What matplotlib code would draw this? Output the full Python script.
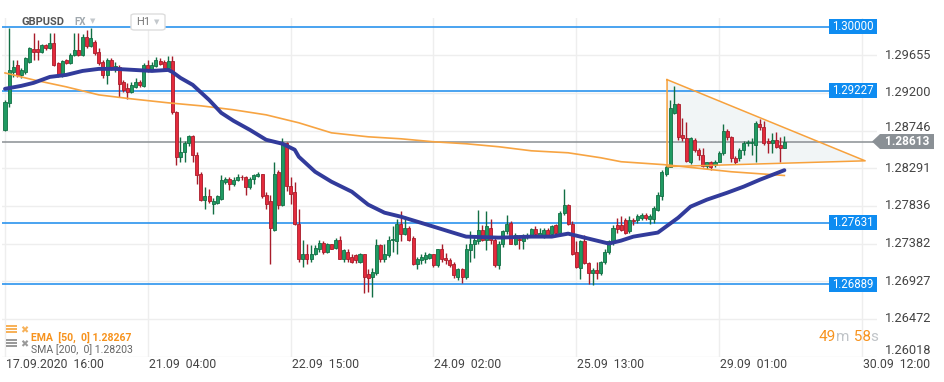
import matplotlib
matplotlib.use('Agg')
import matplotlib.pyplot as plt
from matplotlib.patches import Rectangle, Polygon, FancyBboxPatch
import numpy as np

plt.rcParams['font.family'] = ['Roboto', 'DejaVu Sans']

# ---------------- data (GBPUSD, H1) ----------------
opens = [
    1.2875, 1.2908, 1.2945, 1.2954, 1.2941, 1.2945, 1.2957, 1.2973, 1.2973, 1.2969,
    1.2978, 1.2974, 1.2980, 1.2956, 1.2941, 1.2960, 1.2956, 1.2966, 1.2972, 1.2966,
    1.2987, 1.2977, 1.2981, 1.2969, 1.2957, 1.2942, 1.2960, 1.2950, 1.2951, 1.2933,
    1.2926, 1.2921, 1.2927, 1.2933, 1.2928, 1.2954, 1.2948, 1.2953, 1.2959, 1.2957,
    1.2950, 1.2959, 1.2897, 1.2843, 1.2849, 1.2859, 1.2868, 1.2845, 1.2822, 1.2791,
    1.2795, 1.2786, 1.2787, 1.2792, 1.2813, 1.2816, 1.2810, 1.2815, 1.2819, 1.2818,
    1.2807, 1.2816, 1.2820, 1.2822, 1.2797, 1.2789, 1.2755, 1.2824, 1.2785, 1.2859,
    1.2808, 1.2800, 1.2762, 1.2720, 1.2725, 1.2720, 1.2726, 1.2731, 1.2739, 1.2728,
    1.2737, 1.2733, 1.2742, 1.2719, 1.2728, 1.2722, 1.2724, 1.2716, 1.2725, 1.2701,
    1.2698, 1.2702, 1.2736, 1.2720, 1.2724, 1.2742, 1.2741, 1.2762, 1.2750, 1.2757,
    1.2745, 1.2713, 1.2718, 1.2720, 1.2721, 1.2725, 1.2712, 1.2731, 1.2721, 1.2718,
    1.2714, 1.2698, 1.2707, 1.2698, 1.2730, 1.2737, 1.2741, 1.2754, 1.2743, 1.2757,
    1.2743, 1.2712, 1.2737, 1.2753, 1.2763, 1.2738, 1.2744, 1.2741, 1.2747, 1.2749,
    1.2756, 1.2749, 1.2749, 1.2755, 1.2750, 1.2760, 1.2751, 1.2775, 1.2785, 1.2762,
    1.2728, 1.2709, 1.2741, 1.2715, 1.2703, 1.2706, 1.2702, 1.2716, 1.2728, 1.2741,
    1.2760, 1.2760, 1.2767, 1.2753, 1.2767, 1.2766, 1.2769, 1.2773, 1.2768, 1.2768,
    1.2779, 1.2796, 1.2822, 1.2831, 1.2896, 1.2906, 1.2869, 1.2866, 1.2837, 1.2863,
    1.2851, 1.2845, 1.2832, 1.2836, 1.2833, 1.2837, 1.2848, 1.2874, 1.2867, 1.2842,
    1.2841, 1.2851, 1.2859, 1.2859, 1.2857, 1.2883, 1.2879, 1.2862, 1.2860, 1.2863,
    1.2857, 1.2854]
highs = [
    1.2912, 1.2998, 1.2960, 1.2960, 1.2950, 1.2963, 1.2975, 1.2992, 1.2984, 1.2979,
    1.2979, 1.2992, 1.2992, 1.2957, 1.2960, 1.2961, 1.2968, 1.2992, 1.2992, 1.2991,
    1.2996, 1.2998, 1.2984, 1.2974, 1.2960, 1.2962, 1.2962, 1.2957, 1.2954, 1.2936,
    1.2932, 1.2933, 1.2938, 1.2936, 1.2956, 1.2960, 1.2957, 1.2963, 1.2962, 1.2960,
    1.2965, 1.2965, 1.2898, 1.2867, 1.2862, 1.2869, 1.2869, 1.2849, 1.2825, 1.2806,
    1.2804, 1.2793, 1.2797, 1.2821, 1.2818, 1.2818, 1.2818, 1.2822, 1.2821, 1.2820,
    1.2819, 1.2822, 1.2824, 1.2822, 1.2800, 1.2797, 1.2837, 1.2827, 1.2866, 1.2861,
    1.2818, 1.2812, 1.2780, 1.2742, 1.2737, 1.2736, 1.2736, 1.2742, 1.2741, 1.2739,
    1.2738, 1.2745, 1.2747, 1.2732, 1.2732, 1.2726, 1.2725, 1.2727, 1.2726, 1.2707,
    1.2709, 1.2744, 1.2738, 1.2738, 1.2747, 1.2759, 1.2768, 1.2777, 1.2771, 1.2759,
    1.2747, 1.2722, 1.2725, 1.2728, 1.2727, 1.2726, 1.2732, 1.2738, 1.2727, 1.2721,
    1.2716, 1.2709, 1.2709, 1.2737, 1.2753, 1.2749, 1.2779, 1.2761, 1.2778, 1.2768,
    1.2747, 1.2741, 1.2755, 1.2773, 1.2765, 1.2751, 1.2749, 1.2750, 1.2751, 1.2757,
    1.2759, 1.2757, 1.2757, 1.2757, 1.2760, 1.2762, 1.2777, 1.2804, 1.2786, 1.2765,
    1.2741, 1.2743, 1.2748, 1.2716, 1.2709, 1.2716, 1.2717, 1.2731, 1.2743, 1.2760,
    1.2769, 1.2771, 1.2769, 1.2771, 1.2769, 1.2774, 1.2775, 1.2775, 1.2774, 1.2784,
    1.2800, 1.2827, 1.2833, 1.2912, 1.2928, 1.2908, 1.2890, 1.2885, 1.2867, 1.2866,
    1.2854, 1.2854, 1.2837, 1.2838, 1.2839, 1.2850, 1.2882, 1.2877, 1.2868, 1.2844,
    1.2854, 1.2862, 1.2863, 1.2865, 1.2886, 1.2888, 1.2886, 1.2866, 1.2872, 1.2873,
    1.2867, 1.2868]
lows = [
    1.2874, 1.2903, 1.2939, 1.2939, 1.2938, 1.2943, 1.2956, 1.2960, 1.2960, 1.2968,
    1.2972, 1.2973, 1.2953, 1.2939, 1.2939, 1.2955, 1.2955, 1.2965, 1.2965, 1.2965,
    1.2974, 1.2975, 1.2966, 1.2954, 1.2938, 1.2931, 1.2948, 1.2945, 1.2915, 1.2921,
    1.2913, 1.2920, 1.2926, 1.2927, 1.2927, 1.2945, 1.2947, 1.2951, 1.2954, 1.2949,
    1.2949, 1.2895, 1.2833, 1.2836, 1.2836, 1.2856, 1.2837, 1.2810, 1.2790, 1.2780,
    1.2787, 1.2774, 1.2786, 1.2791, 1.2810, 1.2803, 1.2808, 1.2814, 1.2815, 1.2797,
    1.2804, 1.2810, 1.2819, 1.2793, 1.2780, 1.2713, 1.2753, 1.2780, 1.2783, 1.2801,
    1.2786, 1.2760, 1.2716, 1.2710, 1.2713, 1.2716, 1.2724, 1.2728, 1.2726, 1.2727,
    1.2731, 1.2731, 1.2719, 1.2716, 1.2716, 1.2715, 1.2715, 1.2715, 1.2679, 1.2680,
    1.2674, 1.2700, 1.2716, 1.2716, 1.2722, 1.2728, 1.2725, 1.2741, 1.2748, 1.2741,
    1.2712, 1.2708, 1.2713, 1.2715, 1.2719, 1.2710, 1.2710, 1.2716, 1.2714, 1.2710,
    1.2697, 1.2694, 1.2690, 1.2695, 1.2716, 1.2721, 1.2737, 1.2741, 1.2730, 1.2738,
    1.2710, 1.2708, 1.2734, 1.2750, 1.2737, 1.2736, 1.2732, 1.2732, 1.2744, 1.2747,
    1.2749, 1.2747, 1.2745, 1.2748, 1.2748, 1.2750, 1.2750, 1.2773, 1.2760, 1.2724,
    1.2709, 1.2695, 1.2713, 1.2689, 1.2688, 1.2695, 1.2700, 1.2714, 1.2726, 1.2736,
    1.2751, 1.2753, 1.2750, 1.2751, 1.2761, 1.2763, 1.2767, 1.2767, 1.2762, 1.2763,
    1.2777, 1.2791, 1.2820, 1.2830, 1.2894, 1.2863, 1.2862, 1.2836, 1.2834, 1.2849,
    1.2839, 1.2830, 1.2828, 1.2827, 1.2831, 1.2836, 1.2845, 1.2863, 1.2836, 1.2834,
    1.2838, 1.2845, 1.2856, 1.2845, 1.2836, 1.2875, 1.2857, 1.2848, 1.2848, 1.2853,
    1.2836, 1.2853]
closes = [
    1.2909, 1.2948, 1.2951, 1.2941, 1.2948, 1.2962, 1.2974, 1.2969, 1.2969, 1.2978,
    1.2974, 1.2980, 1.2954, 1.2941, 1.2959, 1.2956, 1.2966, 1.2972, 1.2966, 1.2987,
    1.2977, 1.2986, 1.2968, 1.2956, 1.2942, 1.2960, 1.2950, 1.2953, 1.2931, 1.2924,
    1.2921, 1.2930, 1.2933, 1.2930, 1.2954, 1.2948, 1.2954, 1.2960, 1.2955, 1.2950,
    1.2959, 1.2897, 1.2843, 1.2849, 1.2860, 1.2868, 1.2845, 1.2821, 1.2791, 1.2795,
    1.2789, 1.2790, 1.2795, 1.2815, 1.2816, 1.2810, 1.2815, 1.2819, 1.2818, 1.2807,
    1.2816, 1.2821, 1.2822, 1.2795, 1.2786, 1.2757, 1.2822, 1.2785, 1.2859, 1.2808,
    1.2798, 1.2762, 1.2720, 1.2725, 1.2720, 1.2726, 1.2733, 1.2739, 1.2728, 1.2737,
    1.2732, 1.2743, 1.2720, 1.2730, 1.2720, 1.2716, 1.2718, 1.2725, 1.2698, 1.2696,
    1.2704, 1.2736, 1.2720, 1.2725, 1.2743, 1.2744, 1.2762, 1.2750, 1.2757, 1.2743,
    1.2713, 1.2720, 1.2722, 1.2724, 1.2725, 1.2712, 1.2731, 1.2720, 1.2718, 1.2712,
    1.2700, 1.2707, 1.2698, 1.2731, 1.2737, 1.2743, 1.2754, 1.2743, 1.2759, 1.2742,
    1.2712, 1.2738, 1.2753, 1.2762, 1.2738, 1.2749, 1.2742, 1.2748, 1.2749, 1.2756,
    1.2750, 1.2751, 1.2755, 1.2749, 1.2759, 1.2751, 1.2775, 1.2785, 1.2762, 1.2726,
    1.2710, 1.2741, 1.2715, 1.2703, 1.2706, 1.2702, 1.2716, 1.2728, 1.2741, 1.2757,
    1.2756, 1.2755, 1.2751, 1.2767, 1.2765, 1.2772, 1.2773, 1.2769, 1.2772, 1.2781,
    1.2797, 1.2825, 1.2831, 1.2902, 1.2906, 1.2867, 1.2865, 1.2838, 1.2866, 1.2851,
    1.2845, 1.2832, 1.2836, 1.2831, 1.2837, 1.2848, 1.2874, 1.2867, 1.2841, 1.2837,
    1.2851, 1.2860, 1.2861, 1.2861, 1.2884, 1.2879, 1.2860, 1.2860, 1.2863, 1.2855,
    1.2854, 1.28613]

# EMA(50) and SMA(200) read at sampled candle indices
ema_idx = [0, 4, 7, 11, 15, 19, 23, 27, 36, 40, 41, 43, 46, 50, 53, 56, 60, 64, 68, 71,
           72, 76, 80, 85, 89, 93, 97, 101, 105, 109, 113, 121, 129, 134, 138, 142, 146,
           148, 151, 154, 160, 162, 165, 168, 172, 177, 181, 185, 191]
ema_val = [1.29249, 1.29285, 1.29321, 1.29393, 1.29417, 1.29465, 1.29490, 1.29490,
           1.29465, 1.29477, 1.29453, 1.29381, 1.29297, 1.29116, 1.28959, 1.28863,
           1.28754, 1.28634, 1.28586, 1.28514, 1.28429, 1.28248, 1.28128, 1.28007,
           1.27851, 1.27754, 1.27706, 1.27646, 1.27586, 1.27525, 1.27465, 1.27453,
           1.27465, 1.27465, 1.27501, 1.27453, 1.27405, 1.27381, 1.27417, 1.27465,
           1.27514, 1.27586, 1.27694, 1.27827, 1.27911, 1.27995, 1.28068, 1.28152,
           1.28267]
sma_idx = [0, 7, 15, 23, 31, 40, 48, 56, 64, 72, 80, 89, 97, 105, 113, 121, 129, 138,
           146, 151, 162, 178, 191]
sma_val = [1.29441, 1.29357, 1.29273, 1.29176, 1.29128, 1.29080, 1.29044, 1.28996,
           1.28935, 1.28839, 1.28718, 1.28670, 1.28646, 1.28610, 1.28586, 1.28550,
           1.28501, 1.28477, 1.28417, 1.28369, 1.28332, 1.28248, 1.28203]

levels = [1.30000, 1.29227, 1.27631, 1.26889]
current_price = 1.28613
price_ticks = [1.29655, 1.29200, 1.28746, 1.28291, 1.27836, 1.27382, 1.26927, 1.26472, 1.26018]
time_tick_idx = [0, 35, 70, 105, 140, 175, 210]
time_tick_labels = ['17.09.2020  16:00', '21.09  04:00', '22.09  15:00', '24.09  02:00',
                    '25.09  13:00', '29.09  01:00', '30.09  12:00']
tri_idx = [162.25, 210.8, 162.25]
tri_val = [1.2936, 1.2838, 1.2831]

# ---------------- figure ----------------
W, H = 945, 382
fig = plt.figure(figsize=(W / 100, H / 100), dpi=100)
fig.patch.set_facecolor('white')
ax = fig.add_axes([2 / W, 1 - 357 / H, 875 / W, 339 / H])
ax.set_facecolor('white')
ax.set_xlim(-0.735, 213.7)
ax.set_ylim(1.26012, 1.30104)
for s in ax.spines.values():
    s.set_visible(False)
ax.set_xticks([])
ax.set_yticks([])

def fx(x):
    return x / W

def fy(y):
    return 1 - y / H

# grid
for t in price_ticks:
    ax.axhline(t, color='#eeeeee', lw=1, zorder=0)
for i in time_tick_idx:
    ax.axvline(i, color='#eeeeee', lw=1, zorder=0)

# triangle pattern fill
tri = np.column_stack([tri_idx, tri_val])
ax.add_patch(Polygon(tri, closed=True, facecolor='#f1f5f6', edgecolor='none', zorder=1))

# levels
xl = ax.get_xlim()
lvl_end = 202.0
for lv in levels:
    ax.plot([xl[0], lvl_end], [lv, lv], color='#2b93ee', lw=1.2, zorder=2)
ax.axhline(current_price, color='#8a8f93', lw=1.1, zorder=2)

# candles
idx = np.arange(len(opens))
o = np.array(opens); c = np.array(closes); h = np.array(highs); l = np.array(lows)
up = c >= o
fill = np.where(up, '#1f9a62', '#e42a3c')
edge = np.where(up, '#126f44', '#a81c2a')
ax.vlines(idx, l, h, colors=edge, lw=1.0, zorder=3)
bottom = np.minimum(o, c)
height = np.maximum(np.abs(c - o), 0.00010)
ax.bar(idx, height, bottom=bottom, width=0.74, color=fill, edgecolor=edge,
       linewidth=0.6, zorder=4)

# indicators
ax.plot(sma_idx, sma_val, color='#f7a442', lw=1.2, zorder=5)
ax.plot(ema_idx, ema_val, color='#323b9b', lw=2.8, zorder=6, solid_capstyle='round')

# triangle edges
tri_closed = np.vstack([tri, tri[:1]])
ax.plot(tri_closed[:, 0], tri_closed[:, 1], color='#f7a13c', lw=1.1, zorder=7)

# level label boxes
box_h = 0.0018
for lv in levels:
    ax.add_patch(Rectangle((lvl_end, lv - box_h / 2), xl[1] - lvl_end, box_h,
                           facecolor='#0e8cf1', edgecolor='none', zorder=8, clip_on=False))
    ax.text((lvl_end + xl[1]) / 2, lv, f'{lv:.5f}', color='white', fontsize=8.3,
            ha='center', va='center', zorder=9)

# price labels on right
ytr = ax.get_yaxis_transform()
for t in price_ticks:
    dy = 6 if t == price_ticks[-1] else 0
    dy = 3 if t == 1.28746 else dy
    ax.annotate(f'{t:.5f}', xy=(1, t), xycoords=ytr, xytext=(8, dy),
                textcoords='offset pixels', ha='left', va='center',
                fontsize=9.2, color='#444444', annotation_clip=False)

# current price tag
yc = ax.transData.transform((0, current_price))[1]
ycp = H - yc
tag = Polygon([(fx(872), fy(ycp)), (fx(880), fy(ycp - 7.5)), (fx(934), fy(ycp - 7.5)),
               (fx(934), fy(ycp + 7.5)), (fx(880), fy(ycp + 7.5))],
              closed=True, transform=fig.transFigure, facecolor='#8a9095',
              edgecolor='none', zorder=10)
fig.patches.append(tag)
fig.text(fx(907), fy(ycp), f'{current_price:.5f}', color='white', fontsize=8.6,
         fontweight='bold', ha='center', va='center', zorder=11)

# time labels
xtr = ax.get_xaxis_transform()
for i, lab in zip(time_tick_idx, time_tick_labels):
    ax.annotate(lab, xy=(i, 0), xycoords=xtr, xytext=(1, -8), textcoords='offset pixels',
                ha='left', va='center', fontsize=8.8, color='#444444',
                annotation_clip=False)

# header
fig.text(fx(21), fy(22), 'GBPUSD', fontsize=8, fontweight='bold', color='#555555',
         ha='left', va='center')
fig.text(fx(74), fy(22), 'FX', fontsize=7, fontweight='bold', color='#a0a8ae',
         ha='left', va='center')
fig.text(fx(90), fy(21), '▼', fontsize=5, color='#c3c8cc', ha='left', va='center',
         family='DejaVu Sans')
hbox = FancyBboxPatch((fx(131), fy(30)), fx(34), 16 / H,
                      boxstyle='round,pad=0,rounding_size=0.004',
                      transform=fig.transFigure, facecolor='white',
                      edgecolor='#dddddd', lw=1)
fig.patches.append(hbox)
fig.text(fx(136), fy(22), 'H1', fontsize=8, color='#777777', ha='left', va='center')
fig.text(fx(154), fy(22), '▼', fontsize=5, color='#c3c8cc', ha='left', va='center',
         family='DejaVu Sans')

# indicator legend
def stack_icon(x, y, color):
    for k in range(3):
        fig.patches.append(Rectangle((fx(x), fy(y + k * 3 + 2)), 11 / W, 2 / H,
                                     transform=fig.transFigure, facecolor=color,
                                     edgecolor='none'))

stack_icon(6, 325, '#f7b25a')
fig.text(fx(20), fy(330), '✖', fontsize=7, color='#f7b25a', ha='left', va='center',
         family='DejaVu Sans')
fig.text(fx(31), fy(337), 'EMA  [50,  0] 1.28267', fontsize=7.6, fontweight='bold',
         color='#f7931e', ha='left', va='center')
stack_icon(6, 339, '#9a9a9a')
fig.text(fx(20), fy(344), '✖', fontsize=7, color='#9a9a9a', ha='left', va='center',
         family='DejaVu Sans')
fig.text(fx(31), fy(350), 'SMA [200,  0] 1.28203', fontsize=7.6, color='#666666',
         ha='left', va='center')

# countdown timer
fig.canvas.draw()
renderer = fig.canvas.get_renderer()
parts = [('49', '#f7931e'), ('m', '#c0c4c8'), (' 58', '#f7931e'), ('s', '#c0c4c8')]
x0 = fx(819)
for s, col in parts:
    t = fig.text(x0, fy(337), s, fontsize=11, color=col, ha='left', va='center')
    bb = t.get_window_extent(renderer)
    x0 = x0 + bb.width / W

fig.savefig('out.png', dpi=100, facecolor='white')
